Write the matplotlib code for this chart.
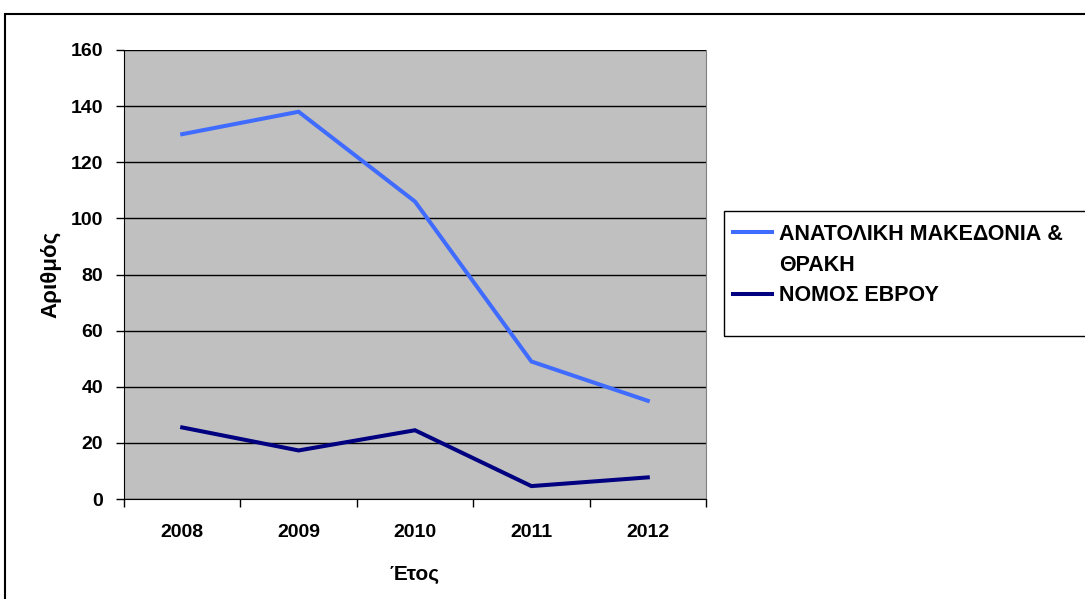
import matplotlib.pyplot as plt
from matplotlib.lines import Line2D
from matplotlib.patches import Rectangle

# values
years = ["2008", "2009", "2010", "2011", "2012"]
amth = [130, 138, 106, 49, 35]
evros = [25.5, 17.3, 24.5, 4.6, 7.7]
labels = ["ΑΝΑΤΟΛΙΚΗ ΜΑΚΕΔΟΝΙΑ &", "ΘΡΑΚΗ", "ΝΟΜΟΣ ΕΒΡΟΥ"]
yticks = [0, 20, 40, 60, 80, 100, 120, 140, 160]

plt.rcParams['font.family'] = ['Liberation Sans', 'DejaVu Sans']
plt.rcParams['font.weight'] = 'bold'

W, H = 1085, 599
fig = plt.figure(figsize=(W / 100, H / 100), dpi=100)
ax = fig.add_axes([124 / W, (H - 499) / H, (706 - 124) / W, (499 - 50) / H])
ax.set_facecolor('#C0C0C0')

x = range(len(years))
l1, = ax.plot(x, amth, color='#3F6BFF', lw=2.9, solid_joinstyle='miter')
l2, = ax.plot(x, evros, color='#000080', lw=2.9, solid_joinstyle='miter')

ax.set_xlim(-0.5, len(years) - 0.5)
ax.set_ylim(0, 160)
ax.set_yticks(yticks)
ax.yaxis.grid(True, color='black', lw=1)
ax.set_axisbelow(True)

# category ticks sit between the years
ax.set_xticks([i - 0.5 for i in range(len(years) + 1)])
ax.set_xticklabels([])
ax.set_xticks(list(x), minor=True)
ax.set_xticklabels(years, minor=True)
ax.tick_params(axis='x', which='minor', length=0, pad=18, labelsize=14)
ax.tick_params(axis='x', which='major', length=6, width=1, direction='out')
ax.tick_params(axis='y', length=6, width=1, labelsize=14, pad=9)

for s in ['left', 'bottom']:
    ax.spines[s].set_color('black')
ax.spines['top'].set_visible(False)
ax.spines['right'].set_color('#808080')

ax.set_xlabel("Έτος", fontsize=15, fontweight='bold', labelpad=17)
ax.set_ylabel("Αριθμός", fontsize=16, fontweight='bold', labelpad=7)

# outer chart frame (cut at right and bottom)
fig.add_artist(Rectangle((5 / W, -0.01), 1.1, (H - 14) / H + 0.01,
                         transform=fig.transFigure, fill=False, lw=1.5,
                         edgecolor='black', clip_on=False))

# legend frame
fig.add_artist(Rectangle((724 / W, (H - 336) / H), 1.0, (336 - 211) / H,
                         transform=fig.transFigure, fill=False, lw=1,
                         edgecolor='black', clip_on=False))
blank = Line2D([], [], lw=0)
fig.legend([l1, blank, l2], labels, loc='upper left',
           bbox_to_anchor=(733 / W, (H - 224) / H), frameon=False,
           fontsize=15.5, handlelength=1.8, handletextpad=0.33,
           labelspacing=0.45, borderaxespad=0, borderpad=0)

fig.savefig("out.png", dpi=100)
